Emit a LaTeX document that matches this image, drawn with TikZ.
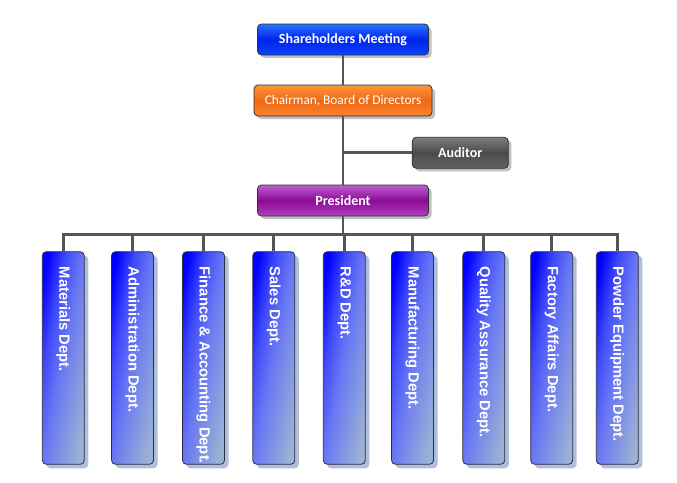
\documentclass[tikz,border=0pt]{standalone}
\usepackage{fontspec}
\setmainfont{Liberation Sans}
\newfontfamily\boxfont{Carlito}
\usetikzlibrary{positioning,shadows}

\definecolor{linegray}{RGB}{85,85,85}
\definecolor{edgegray}{RGB}{45,45,60}
\definecolor{shareTop}{RGB}{40,115,255}
\definecolor{shareMid}{RGB}{0,35,235}
\definecolor{shareBot}{RGB}{10,70,250}
\definecolor{chairTop}{RGB}{255,150,60}
\definecolor{chairMid}{RGB}{238,105,20}
\definecolor{chairBot}{RGB}{250,130,45}
\definecolor{audTop}{RGB}{125,125,125}
\definecolor{audMid}{RGB}{75,75,75}
\definecolor{audBot}{RGB}{100,100,100}
\definecolor{presTop}{RGB}{190,95,205}
\definecolor{presMid}{RGB}{140,10,150}
\definecolor{presBot}{RGB}{175,65,190}
\definecolor{deptTop}{RGB}{0,0,255}
\definecolor{deptQtr}{RGB}{65,75,250}
\definecolor{deptMid}{RGB}{105,120,243}
\definecolor{deptBot}{RGB}{155,178,212}
\definecolor{deptShadow}{RGB}{175,190,218}
\definecolor{topShadow}{RGB}{175,175,175}
\pgfdeclareverticalshading{deptshade}{100bp}{color(0bp)=(deptBot); color(25bp)=(deptBot); color(50bp)=(deptMid); color(62.5bp)=(deptQtr); color(75bp)=(deptTop); color(100bp)=(deptTop)}

\begin{document}
\begin{tikzpicture}[x=1pt, y=-1pt, line width=2.8pt, color=linegray,
	topbox/.style={draw=edgegray, line width=0.8pt, rounded corners=4pt, minimum height=31pt, inner sep=0pt,
		text=white, font=\boxfont\fontsize{14}{16}\selectfont\bfseries,
		drop shadow={shadow xshift=3pt, shadow yshift=-3pt, fill=topShadow, opacity=0.8}},
	dept/.style={draw=edgegray, line width=0.8pt, rounded corners=4pt, minimum width=42pt, minimum height=212.6pt, inner sep=0pt,
		shading=deptshade, shading angle=78.8,
		drop shadow={shadow xshift=4pt, shadow yshift=-4pt, fill=deptShadow, opacity=1}},
	depttext/.style={rotate=-90, anchor=west, inner sep=0pt, text=white, font=\fontsize{14.8}{17}\selectfont\bfseries}]
	\useasboundingbox (0,0) rectangle (677,482);

	\node (Share) at (343,39.5) [topbox, minimum width=171pt, top color=shareTop, bottom color=shareBot, middle color=shareMid] {Shareholders Meeting};
	\node (Chair) at (343,100.5) [topbox, minimum width=178pt, top color=chairTop, bottom color=chairBot, middle color=chairMid, font=\boxfont\fontsize{13.3}{15}\selectfont] {Chairman, Board of Directors};
	\node (Aud) at (460.3,152.8) [topbox, minimum width=96pt, top color=audTop, bottom color=audBot, middle color=audMid] {Auditor};
	\node (Pres) at (343,200.5) [topbox, minimum width=171pt, top color=presTop, bottom color=presBot, middle color=presMid] {President};
	\coordinate (Bus) at (343,234.3);

	% departments
	\foreach \i/\x/\name in {1/63.3/Materials Dept., 2/132.5/Administration Dept., 3/203.5/Finance \& Accounting Dept.,
		4/273.8/Sales Dept., 5/344.3/R\&D Dept., 6/412.5/Manufacturing Dept., 7/483.8/Quality Assurance Dept.,
		8/551.7/Factory Affairs Dept., 9/617.3/Powder Equipment Dept.} {
		\node (D\i) at (\x,358) [dept] {};
		\node (T\i) at ([yshift=-14pt]D\i.north) [depttext] {\name};
	}

	\draw (Share) -- (Chair);
	\draw (Chair) -- (Pres);
	\draw (Aud.west) -- (Aud.west -| Pres.north);
	\draw (Pres) -- (Bus);
	\draw (D1.north) |- (Bus) -| (D9.north);
	\foreach \i in {2,...,8}
		\draw (D\i.north) -- (D\i.north |- Bus);
\end{tikzpicture}
\end{document}
